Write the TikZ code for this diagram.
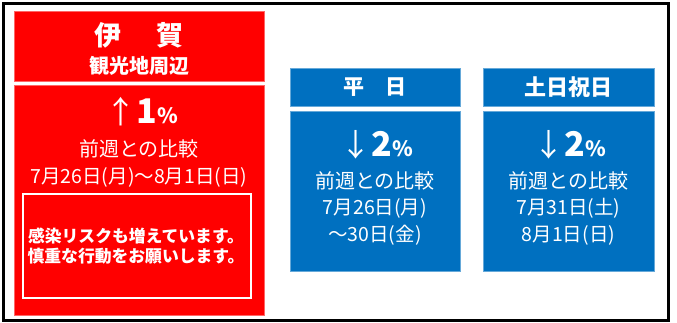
\documentclass[tikz,border=0pt]{standalone}
\usepackage{fontspec}
\setmainfont{Noto Sans CJK JP}
\definecolor{rd}{HTML}{FF0000}
\definecolor{bl}{HTML}{0070C0}
\tikzset{
  box/.style={inner sep=0pt, outer sep=0pt},
  redbox/.style={box, fill=rd, draw=rd!60!white, line width=0.6pt},
  bluebox/.style={box, fill=bl, draw=bl!60!white, line width=0.6pt},
  txt/.style={text=white, inner sep=0pt, anchor=center},
}
\newcommand{\fs}[1]{\fontsize{#1}{#1}\selectfont}
\begin{document}
\begin{tikzpicture}[x=1pt,y=-1pt]
\useasboundingbox (0,0) rectangle (677,323);
\draw[line width=3.5pt] (3.5,3.5) rectangle (668.5,320.5);
% red column
\node[redbox, minimum width=250pt, minimum height=70pt] (rhead) at (139,46) {};
\node[redbox, minimum width=250pt, minimum height=230pt] (rbody) at (139,200) {};
\node[box, draw=white, line width=2pt, minimum width=228pt, minimum height=104pt] (warn) at (137,246) {};
\node[txt] (iga) at (139,35) {\fs{27}\bfseries 伊\hspace{1.3em}賀};
\node[txt] (kanko) at (139,66) {\fs{20}\bfseries 観光地周辺};
\node[txt] (rpct) at (142,112) {\fs{31}↑\fs{34}\bfseries 1\fs{21}\%};
\node[txt] (rcmp) at (139,149) {\fs{20}前週との比較};
\node[txt] (rdate) at (139,177) {\fs{19.5}7月26日(月)～8月1日(日)};
\node[txt, align=center] (warntxt) at (136,246) {\fs{16.8}\bfseries 感染リスクも増えています。\\[2.5pt]\fs{16.8}\bfseries 慎重な行動をお願いします。};
% blue column 1
\node[bluebox, minimum width=170pt, minimum height=38pt] (bhead1) at (375,87) {};
\node[bluebox, minimum width=170pt, minimum height=160pt] (bbody1) at (375,191) {};
\node[txt] (heijitsu) at (375,87) {\fs{21}\bfseries 平\hspace{1em}日};
\node[txt] (bpct1) at (377,145) {\fs{31}↓\fs{34}\bfseries 2\fs{21}\%};
\node[txt] (bcmp1) at (375,181) {\fs{20}前週との比較};
\node[txt] (bdate1a) at (375,208) {\fs{19.5}7月26日(月)};
\node[txt] (bdate1b) at (375,235) {\fs{19.5}～30日(金)};
% blue column 2
\node[bluebox, minimum width=171pt, minimum height=38pt] (bhead2) at (568.5,87) {};
\node[bluebox, minimum width=171pt, minimum height=160pt] (bbody2) at (568.5,191) {};
\node[txt] (donichi) at (568.5,87) {\fs{22}\bfseries 土日祝日};
\node[txt] (bpct2) at (570,145) {\fs{31}↓\fs{34}\bfseries 2\fs{21}\%};
\node[txt] (bcmp2) at (568.5,181) {\fs{20}前週との比較};
\node[txt] (bdate2a) at (568.5,208) {\fs{19.5}7月31日(土)};
\node[txt] (bdate2b) at (568.5,235) {\fs{19.5}8月1日(日)};
\end{tikzpicture}
\end{document}
